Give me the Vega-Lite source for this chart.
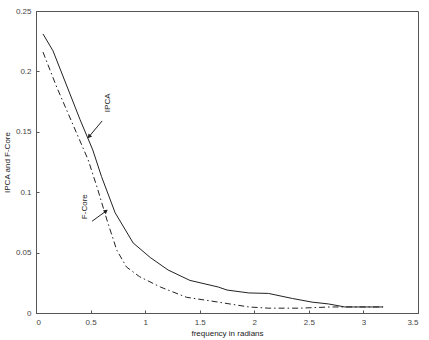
{
  "$schema": "https://vega.github.io/schema/vega-lite/v6.json",
  "width": 382,
  "height": 302,
  "autosize": {"type": "none"},
  "padding": {"left": 36, "top": 11, "right": 11, "bottom": 27},
  "background": "white",
  "config": {
    "font": "Liberation Sans",
    "view": {"stroke": "#555", "strokeWidth": 1},
    "axis": {
      "grid": false,
      "domainColor": "#555",
      "tickColor": "#555",
      "tickSize": -3,
      "labelFontSize": 8,
      "labelColor": "#444",
      "titleFontSize": 8,
      "titleFontWeight": "normal",
      "titleColor": "#222"
    }
  },
  "datasets": {
    "curves": [
      {"f": 0.064, "v": 0.231, "s": "IPCA"},
      {"f": 0.156, "v": 0.217, "s": "IPCA"},
      {"f": 0.404, "v": 0.16, "s": "IPCA"},
      {"f": 0.52, "v": 0.135, "s": "IPCA"},
      {"f": 0.6, "v": 0.113, "s": "IPCA"},
      {"f": 0.725, "v": 0.083, "s": "IPCA"},
      {"f": 0.89, "v": 0.058, "s": "IPCA"},
      {"f": 1.046, "v": 0.046, "s": "IPCA"},
      {"f": 1.21, "v": 0.0356, "s": "IPCA"},
      {"f": 1.41, "v": 0.027, "s": "IPCA"},
      {"f": 1.67, "v": 0.0215, "s": "IPCA"},
      {"f": 1.75, "v": 0.019, "s": "IPCA"},
      {"f": 1.95, "v": 0.0166, "s": "IPCA"},
      {"f": 2.13, "v": 0.0162, "s": "IPCA"},
      {"f": 2.35, "v": 0.012, "s": "IPCA"},
      {"f": 2.53, "v": 0.009, "s": "IPCA"},
      {"f": 2.68, "v": 0.0075, "s": "IPCA"},
      {"f": 2.83, "v": 0.005, "s": "IPCA"},
      {"f": 3.18, "v": 0.005, "s": "IPCA"},
      {"f": 0.064, "v": 0.216, "s": "F-Core"},
      {"f": 0.19, "v": 0.187, "s": "F-Core"},
      {"f": 0.477, "v": 0.127, "s": "F-Core"},
      {"f": 0.56, "v": 0.104, "s": "F-Core"},
      {"f": 0.65, "v": 0.077, "s": "F-Core"},
      {"f": 0.74, "v": 0.052, "s": "F-Core"},
      {"f": 0.83, "v": 0.038, "s": "F-Core"},
      {"f": 0.95, "v": 0.03, "s": "F-Core"},
      {"f": 1.14, "v": 0.0215, "s": "F-Core"},
      {"f": 1.38, "v": 0.013, "s": "F-Core"},
      {"f": 1.67, "v": 0.009, "s": "F-Core"},
      {"f": 1.95, "v": 0.005, "s": "F-Core"},
      {"f": 2.13, "v": 0.004, "s": "F-Core"},
      {"f": 2.42, "v": 0.004, "s": "F-Core"},
      {"f": 2.7, "v": 0.005, "s": "F-Core"},
      {"f": 3.18, "v": 0.005, "s": "F-Core"}
    ],
    "arrows": [
      {"label": "IPCA", "x": 0.606, "y": 0.159, "x2": 0.486, "y2": 0.146, "tx": 0.66, "ty": 0.174},
      {"label": "F-Core", "x": 0.514, "y": 0.076, "x2": 0.642, "y2": 0.0844, "tx": 0.45, "ty": 0.088}
    ]
  },
  "layer": [
    {
      "data": {"name": "curves"},
      "transform": [{"filter": "datum.s == 'IPCA'"}],
      "mark": {"type": "line", "color": "#222", "strokeWidth": 1},
      "encoding": {
        "x": {"field": "f", "type": "quantitative", "scale": {"domain": [0, 3.5], "nice": false}, "axis": {"values": [0, 0.5, 1, 1.5, 2, 2.5, 3, 3.5], "format": "~f", "title": "frequency in radians", "labelPadding": 8, "titlePadding": 3}},
        "y": {"field": "v", "type": "quantitative", "scale": {"domain": [0, 0.25], "nice": false}, "axis": {"values": [0, 0.05, 0.1, 0.15, 0.2, 0.25], "format": "~f", "title": "IPCA and  F-Core", "labelPadding": 8, "titlePadding": 4}}
      }
    },
    {
      "data": {"name": "curves"},
      "transform": [{"filter": "datum.s == 'F-Core'"}],
      "mark": {"type": "line", "color": "#222", "strokeWidth": 1, "strokeDash": [6, 3, 1.5, 3]},
      "encoding": {
        "x": {"field": "f", "type": "quantitative"},
        "y": {"field": "v", "type": "quantitative"}
      }
    },
    {
      "data": {"name": "arrows"},
      "mark": {"type": "rule", "color": "#222", "strokeWidth": 1},
      "encoding": {
        "x": {"field": "x", "type": "quantitative"},
        "y": {"field": "y", "type": "quantitative"},
        "x2": {"field": "x2"},
        "y2": {"field": "y2"}
      }
    },
    {
      "data": {"name": "arrows"},
      "transform": [{"filter": "datum.label == 'IPCA'"}],
      "mark": {"type": "point", "shape": "triangle-up", "filled": true, "color": "#222", "size": 22, "angle": 219, "opacity": 1},
      "encoding": {
        "x": {"field": "x2", "type": "quantitative"},
        "y": {"field": "y2", "type": "quantitative"}
      }
    },
    {
      "data": {"name": "arrows"},
      "transform": [{"filter": "datum.label == 'F-Core'"}],
      "mark": {"type": "point", "shape": "triangle-up", "filled": true, "color": "#222", "size": 22, "angle": 54, "opacity": 1},
      "encoding": {
        "x": {"field": "x2", "type": "quantitative"},
        "y": {"field": "y2", "type": "quantitative"}
      }
    },
    {
      "data": {"name": "arrows"},
      "mark": {"type": "text", "angle": 270, "fontSize": 8, "color": "#222", "align": "center", "baseline": "middle"},
      "encoding": {
        "x": {"field": "tx", "type": "quantitative"},
        "y": {"field": "ty", "type": "quantitative"},
        "text": {"field": "label"}
      }
    }
  ]
}
